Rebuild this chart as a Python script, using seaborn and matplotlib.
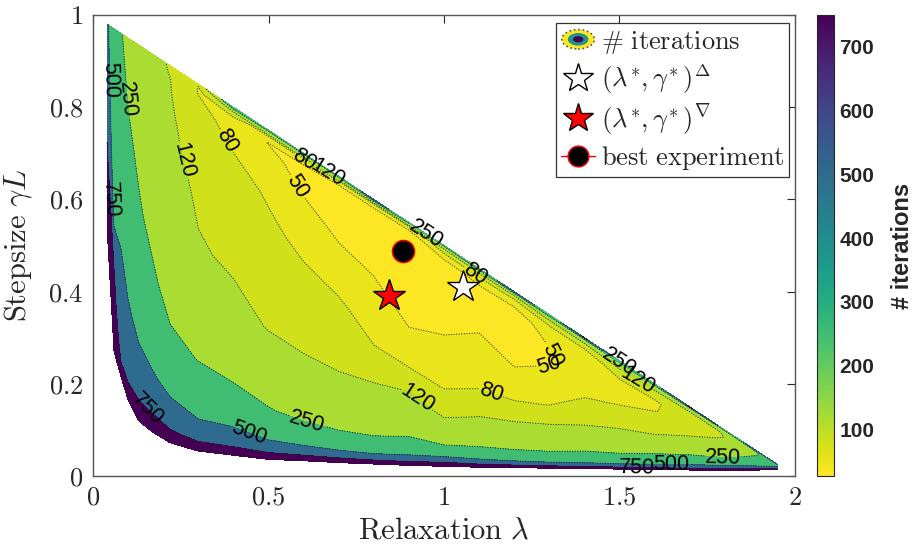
import numpy as np
import matplotlib
matplotlib.use("Agg")
import matplotlib.pyplot as plt
import seaborn as sns
from matplotlib.patches import Ellipse, Patch
from matplotlib.legend_handler import HandlerBase
from matplotlib.lines import Line2D
from matplotlib.colors import Normalize
from matplotlib.cm import ScalarMappable

sns.set_style("white")
plt.rcParams["mathtext.fontset"] = "cm"
plt.rcParams["font.family"] = ["Liberation Sans", "DejaVu Sans"]

# ---------------- data ----------------
# relaxation values of the sampled columns
lam = [0.04, 0.06, 0.08, 0.10, 0.13, 0.17, 0.22, 0.30, 0.40, 0.50, 0.60, 0.70,
       0.80, 0.90, 1.00, 1.10, 1.20, 1.30, 1.40, 1.50, 1.60, 1.70, 1.80, 1.90, 1.95]
# lowest / highest stepsize with a converged run in each column
gam_bottom = [0.54, 0.27, 0.215, 0.165, 0.12, 0.095, 0.072, 0.054, 0.045, 0.036, 0.033, 0.029,
              0.026, 0.023, 0.021, 0.019, 0.018, 0.017, 0.016, 0.015, 0.014, 0.013, 0.013, 0.013, 0.0135]
gam_top = [0.98, 0.97, 0.96, 0.95, 0.935, 0.915, 0.89, 0.85, 0.80, 0.75, 0.70, 0.65,
           0.60, 0.55, 0.50, 0.45, 0.40, 0.35, 0.30, 0.25, 0.20, 0.15, 0.10, 0.05, 0.025]
# relative position of the samples between bottom and top of a column
u_rows = [0.0, 0.03, 0.08, 0.15, 0.25, 0.40, 0.55, 0.70, 0.80, 0.88, 0.93, 0.96, 0.98, 0.99, 1.0]
# number of iterations, one list per column (bottom -> top)
iters = [
    [1000, 980, 950, 900, 840, 760, 680, 630, 600, 585, 575, 570, 566, 564, 562],   # 0.04
    [1000, 950, 880, 820, 755, 480, 420, 380, 360, 345, 338, 334, 331, 330, 329],   # 0.06
    [900, 770, 690, 620, 560, 487, 400, 340, 308, 287, 275, 269, 265, 262, 260],    # 0.08
    [880, 790, 690, 590, 520, 418, 335, 280, 252, 234, 223, 218, 214, 212, 211],    # 0.10
    [900, 820, 690, 560, 460, 350, 270, 230, 205, 190, 182, 178, 175, 174, 173],    # 0.13
    [950, 810, 660, 520, 390, 275, 215, 175, 158, 147, 141, 138, 136, 135, 134],    # 0.17
    [1000, 770, 600, 440, 290, 205, 165, 145, 132, 126, 122, 121, 118, 117, 116],   # 0.22
    [1000, 720, 520, 360, 245, 165, 125, 112, 102, 92, 85, 81, 79, 79, 82],         # 0.30
    [1000, 700, 505, 320, 210, 140, 113, 97, 87, 79, 75, 74, 85, 150, 450],         # 0.40
    [1000, 660, 410, 260, 175, 117, 95, 84, 78, 65, 57, 49, 75, 160, 300],          # 0.50
    [1000, 620, 360, 215, 150, 107, 88, 76, 60, 47, 42, 48, 82, 170, 300],          # 0.60
    [1000, 590, 320, 190, 140, 100, 86, 60, 46, 38, 36, 40, 65, 150, 300],          # 0.70
    [1000, 560, 300, 185, 145, 88, 66, 51, 42, 37, 36, 42, 70, 160, 700],           # 0.80
    [1000, 580, 330, 200, 150, 81, 52, 38, 34, 33, 35, 42, 65, 150, 320],           # 0.90
    [1000, 620, 285, 165, 105, 70, 55, 40, 33, 30, 45, 75, 100, 160, 320],          # 1.00
    [1000, 580, 300, 175, 122, 79, 62, 48, 40, 40, 55, 85, 130, 220, 350],          # 1.10
    [1000, 560, 290, 185, 125, 75, 52, 40, 38, 42, 55, 85, 130, 230, 700],          # 1.20
    [1000, 560, 300, 195, 135, 82, 58, 48, 51, 60, 82, 115, 160, 260, 400],         # 1.30
    [1000, 600, 330, 230, 150, 100, 79, 58, 55, 65, 88, 125, 180, 280, 800],        # 1.40
    [1000, 620, 350, 245, 160, 113, 85, 68, 72, 95, 125, 170, 240, 330, 450],       # 1.50
    [1000, 650, 420, 290, 190, 122, 95, 78, 77, 95, 125, 170, 240, 340, 450],       # 1.60
    [1000, 740, 520, 360, 240, 160, 117, 100, 95, 100, 125, 175, 245, 340, 800],    # 1.70
    [1000, 800, 560, 420, 290, 200, 155, 128, 121, 123, 140, 180, 245, 330, 450],   # 1.80
    [1000, 900, 745, 600, 480, 380, 320, 280, 260, 260, 270, 300, 350, 420, 550],   # 1.90
    [1000, 950, 850, 745, 650, 560, 505, 460, 440, 430, 430, 440, 460, 505, 650],   # 1.95
]
contour_levels = [50, 80, 120, 250, 500, 750]
cbar_min, cbar_max = 27, 750
cbar_ticks = [100, 200, 300, 400, 500, 600, 700]

star_delta = (1.053, 0.409)
star_nabla = (0.844, 0.391)
best_exp = (0.884, 0.487)

xticks = [0, 0.5, 1, 1.5, 2]
xtick_labels = ["0", "0.5", "1", "1.5", "2"]
yticks = [0, 0.2, 0.4, 0.6, 0.8, 1]
ytick_labels = ["0", "0.2", "0.4", "0.6", "0.8", "1"]

label_spots = [(0.048, 0.86), (0.091, 0.816), (0.04, 0.6), (0.256, 0.685), (0.376, 0.725),
               (0.60, 0.682), (0.67, 0.658), (0.58, 0.628), (0.95, 0.524), (1.083, 0.432),
               (1.30, 0.241), (1.335, 0.273), (1.50, 0.248), (1.549, 0.205), (1.136, 0.187),
               (0.92, 0.165), (0.609, 0.114), (0.438, 0.082), (0.161, 0.15), (1.549, 0.02),
               (1.648, 0.024), (1.796, 0.038)]

# ---------------- figure ----------------
W, H = 918, 551
fig = plt.figure(figsize=(W / 100, H / 100), dpi=100)
ax = fig.add_axes([93 / W, 75 / H, 702 / W, 461 / H])

lam_a = np.array(lam)
B = np.array(gam_bottom)
T = np.array(gam_top)
U = np.array(u_rows)
X = np.tile(lam_a, (len(U), 1))
Y = B[None, :] + U[:, None] * (T - B)[None, :]
Z = np.array(iters, dtype=float).T
logZ = np.log(Z)

cmap = sns.color_palette("viridis_r", as_cmap=True)
norm = Normalize(cbar_min, cbar_max)
bounds = [1] + contour_levels + [1e5]
band_colors = [cmap(norm(max(b, cbar_min))) for b in bounds[:-1]]

ax.contourf(X, Y, logZ, levels=np.log(bounds), colors=band_colors)
cs = ax.contour(X, Y, logZ, levels=np.log(contour_levels), colors="#222222",
                linewidths=0.7, linestyles=":")
ax.clabel(cs, fmt=lambda v: f"{int(round(np.exp(v)))}", manual=label_spots,
          inline=True, inline_spacing=2, fontsize=15.5, colors="black")

ax.plot(*star_delta, marker="*", ms=24, mfc="white", mec="black", mew=1, ls="none", zorder=5)
ax.plot(*star_nabla, marker="*", ms=24, mfc="red", mec="black", mew=1, ls="none", zorder=5)
ax.plot(*best_exp, marker="o", ms=16, mfc="black", mec="red", mew=1, ls="none", zorder=5)

ax.set_xlim(0, 2)
ax.set_ylim(0, 1)
ax.set_xticks(xticks)
ax.set_xticklabels([f"${t}$" for t in xtick_labels])
ax.set_yticks(yticks)
ax.set_yticklabels([f"${t}$" for t in ytick_labels])
ax.tick_params(direction="in", top=True, right=True, length=6, width=0.8,
               color="#262626", labelcolor="#262626", labelsize=19, pad=7)
for s in ax.spines.values():
    s.set_edgecolor("#555555")
    s.set_linewidth(1.0)
ax.set_xlabel(r"$\mathrm{Relaxation}\ \lambda$", fontsize=22, color="#262626", labelpad=4)
ax.set_ylabel(r"$\mathrm{Stepsize}\ \gamma L$", fontsize=22, color="#262626", labelpad=10)


class EllipseHandler(HandlerBase):
    def create_artists(self, legend, orig_handle, xdescent, ydescent, width, height,
                       fontsize, trans):
        cx = width / 2 - xdescent
        cy = height / 2 - ydescent
        e1 = Ellipse((cx, cy), width * 0.95, height * 1.05, facecolor=band_colors[0],
                     edgecolor="#555555", linestyle=":", lw=1.2, transform=trans)
        e2 = Ellipse((cx, cy), width * 0.6, height * 0.68, facecolor="#21918c",
                     edgecolor="none", transform=trans)
        e3 = Ellipse((cx, cy), width * 0.3, height * 0.34, facecolor="#440154",
                     edgecolor="none", transform=trans)
        return [e1, e2, e3]


h_iter = Patch()
h_w = Line2D([], [], marker="*", ms=22, mfc="white", mec="black", mew=1, ls="none")
h_r = Line2D([], [], marker="*", ms=22, mfc="red", mec="black", mew=1, ls="none")
h_b = Line2D([], [], marker="o", ms=15, mfc="black", mec="red", mew=1, color="red", ls="-", lw=1)
leg = ax.legend([h_iter, h_w, h_r, h_b],
                [r"$\#\ \mathrm{iterations}$", r"$(\lambda^{\!*}\!,\gamma^{\!*})^{\Delta}$",
                 r"$(\lambda^{\!*}\!,\gamma^{\!*})^{\nabla}$", r"$\mathrm{best\ experiment}$"],
                handler_map={h_iter: EllipseHandler()}, loc="upper right",
                bbox_to_anchor=(0.992, 0.982), fontsize=19, frameon=True, fancybox=False,
                edgecolor="#333333", framealpha=1, borderpad=0.2, labelspacing=0.22,
                handlelength=1.3, handletextpad=0.2, borderaxespad=0)
leg.get_frame().set_linewidth(0.9)

cax = fig.add_axes([817 / W, 75 / H, 17 / W, 461 / H])
sm = ScalarMappable(norm=norm, cmap=cmap)
cb = fig.colorbar(sm, cax=cax, ticks=cbar_ticks)
cb.ax.tick_params(direction="in", length=4, width=0.8, labelsize=15, color="#262626",
                  labelcolor="#262626", pad=4)
for t in cb.ax.get_yticklabels():
    t.set_fontweight("bold")
cb.set_label("# iterations", fontsize=17, fontweight="bold", color="#262626", labelpad=12)
cb.outline.set_edgecolor("#262626")
cb.outline.set_linewidth(0.8)

fig.savefig("out.png", dpi=100)
